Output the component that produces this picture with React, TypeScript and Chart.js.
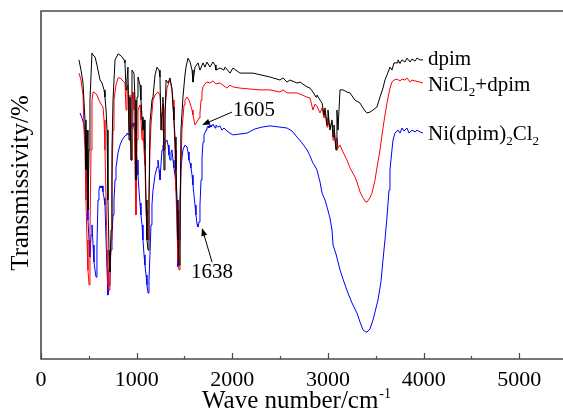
import { useEffect, useRef } from "react";
import { Chart, registerables } from "chart.js";

Chart.register(...registerables);

// ---- Data (wavenumber cm-1, transmissivity in arbitrary offset units) ----
const dpimWn = [397, 418, 439, 460, 470, 481, 491, 502, 512, 533, 544, 565, 585, 596, 617, 638, 659, 669, 680, 690, 700, 711, 721, 732, 742, 753, 774, 795, 805, 826, 847, 868, 878, 889, 899, 909, 920, 930, 941, 951, 972, 983, 993, 1004, 1014, 1035, 1045, 1056, 1066, 1077, 1087, 1098, 1108, 1119, 1129, 1139, 1160, 1171, 1192, 1213, 1234, 1244, 1254, 1265, 1275, 1286, 1296, 1307, 1328, 1349, 1369, 1380, 1390, 1401, 1411, 1422, 1432, 1443, 1453, 1463, 1484, 1505, 1516, 1537, 1558, 1579, 1589, 1599, 1610, 1641, 1662, 1694, 1714, 1735, 1767, 1798, 1819, 1829, 1871, 1913, 1924, 1976, 2007, 2080, 2216, 2394, 2498, 2530, 2572, 2603, 2676, 2708, 2781, 2812, 2843, 2875, 2885, 2917, 2938, 2959, 2969, 2990, 3000, 3021, 3042, 3053, 3063, 3084, 3094, 3105, 3126, 3157, 3199, 3230, 3282, 3335, 3366, 3397, 3408, 3439, 3471, 3512, 3544, 3575, 3596, 3617, 3648, 3669, 3690, 3722, 3732, 3753, 3774, 3805, 3826, 3858, 3878, 3910, 3931, 3962, 3993];
const dpimT = [99.7, 96.3, 92, 79.7, 63, 76.3, 49.7, 69.7, 86.3, 102, 101.3, 100.7, 98, 96.3, 93, 92, 89.7, 87.3, 83, 76.3, 53, 36.3, 29, 43, 69.7, 86.3, 99.7, 101, 101.7, 101.3, 100.7, 99.7, 98.7, 89.7, 93, 97.3, 73, 87.3, 66.3, 96.3, 95.3, 86.3, 59.7, 87.3, 94, 91.3, 86.3, 80.7, 76.3, 79.7, 69.7, 53, 39.7, 36.3, 53, 78.7, 86.3, 87.3, 94.7, 97.3, 96.3, 94, 76.3, 82, 87.3, 63, 79.7, 93, 92, 93.7, 89.7, 84, 79.7, 74, 63, 53, 39.7, 31.3, 43, 76.3, 87.3, 94.7, 97.3, 100.3, 99, 96.3, 92.3, 94.7, 97.3, 98.7, 96.3, 98.7, 97.3, 99, 97.3, 99, 98, 96.3, 97, 96.3, 97.3, 95.3, 97, 95.3, 95.3, 94, 93, 93.7, 92.3, 93, 92, 92.3, 90.7, 90.3, 89, 87.3, 88, 86.3, 85.3, 81.3, 83.7, 78, 83, 76.3, 79.7, 74, 78, 69.7, 83, 76.3, 89.7, 89.7, 89, 88.7, 86.3, 85.3, 83.7, 82.3, 82, 82.3, 83, 84, 87.3, 90.3, 93, 94.7, 97.3, 96.3, 98.7, 98.7, 99.7, 98.5, 99.7, 99, 100.3, 99, 100, 99.3, 100.3, 99.7, 99.7];

const nicl2Wn = [397, 418, 439, 450, 460, 470, 481, 491, 502, 512, 523, 533, 544, 565, 585, 606, 627, 648, 659, 669, 680, 690, 700, 711, 721, 732, 742, 753, 763, 784, 805, 826, 847, 878, 889, 899, 909, 920, 930, 941, 951, 962, 972, 983, 993, 1004, 1014, 1035, 1045, 1056, 1066, 1077, 1087, 1098, 1108, 1119, 1129, 1139, 1150, 1171, 1192, 1223, 1244, 1254, 1265, 1275, 1286, 1296, 1317, 1338, 1349, 1369, 1380, 1390, 1401, 1411, 1422, 1432, 1443, 1453, 1463, 1474, 1495, 1505, 1526, 1547, 1558, 1579, 1589, 1599, 1610, 1620, 1631, 1652, 1662, 1673, 1683, 1694, 1714, 1735, 1767, 1798, 1829, 1871, 1913, 1944, 1976, 2007, 2080, 2185, 2289, 2394, 2498, 2530, 2572, 2676, 2781, 2812, 2843, 2865, 2885, 2917, 2938, 2959, 2969, 2990, 3000, 3021, 3042, 3053, 3063, 3084, 3094, 3105, 3126, 3157, 3199, 3230, 3282, 3303, 3335, 3366, 3397, 3408, 3439, 3460, 3492, 3512, 3544, 3575, 3596, 3617, 3648, 3669, 3690, 3722, 3753, 3774, 3805, 3826, 3858, 3878, 3910, 3962, 3993];
const nicl2T = [95.3, 93, 88, 76.3, 69.7, 53, 39.7, 29.7, 24.7, 43, 69.7, 86.3, 89, 88.7, 88, 86.3, 85, 84, 79.7, 69.7, 53, 36.3, 24.7, 23, 24.7, 39.7, 59.7, 76.3, 86.3, 91.3, 93.7, 93.7, 93, 92, 83, 90.3, 91.3, 76.3, 88, 66.3, 86.3, 89, 83, 63, 48, 73, 83, 84.7, 79.7, 73, 76.3, 69.7, 64.7, 49.7, 41.3, 39.7, 53, 69.7, 78, 86.3, 88, 89, 88, 83, 76.3, 85, 69.7, 83, 90.3, 92.3, 93, 90.3, 86.3, 79.7, 69.7, 56.3, 43, 33, 29.7, 39.7, 63, 76.3, 84.7, 86.3, 87.3, 86.3, 85.3, 83, 81.3, 79.7, 78, 78, 79, 80.3, 82, 86.3, 89, 90.7, 91.7, 92.3, 92, 92.7, 91.7, 92, 91, 90.3, 91.3, 90.7, 90.3, 90, 89.7, 89.7, 89, 89.7, 88.7, 88.7, 87.3, 87, 83, 85, 84.3, 82, 83.7, 80.3, 82.3, 77.3, 80.3, 77, 79, 73, 76.3, 69.7, 73.7, 70.3, 71.3, 69, 66.3, 63.7, 60.7, 59, 55.7, 53.7, 52.3, 52.3, 53.7, 55.3, 59.7, 63.7, 69.7, 77, 81.3, 85.3, 90.3, 92.3, 93, 93.3, 92.7, 93.3, 93, 93.7, 92.3, 93, 92.7, 92.3, 92];

const complexWn = [408, 429, 450, 460, 470, 481, 491, 502, 512, 523, 533, 544, 554, 565, 575, 585, 596, 606, 617, 627, 638, 648, 659, 669, 680, 690, 700, 711, 721, 732, 742, 753, 763, 774, 784, 805, 826, 847, 868, 889, 899, 920, 930, 951, 962, 972, 983, 993, 1004, 1014, 1024, 1035, 1045, 1056, 1066, 1077, 1087, 1098, 1108, 1119, 1129, 1139, 1150, 1160, 1171, 1192, 1213, 1223, 1234, 1244, 1254, 1265, 1275, 1296, 1317, 1328, 1338, 1349, 1359, 1369, 1380, 1390, 1401, 1411, 1422, 1432, 1443, 1453, 1463, 1474, 1484, 1505, 1526, 1537, 1547, 1558, 1568, 1579, 1589, 1599, 1610, 1620, 1631, 1641, 1652, 1662, 1673, 1683, 1694, 1704, 1725, 1735, 1746, 1756, 1767, 1777, 1798, 1819, 1829, 1850, 1871, 1892, 1913, 1944, 1976, 2007, 2080, 2154, 2237, 2310, 2394, 2498, 2572, 2624, 2676, 2729, 2781, 2812, 2843, 2865, 2885, 2917, 2938, 2969, 2990, 3021, 3042, 3053, 3084, 3126, 3167, 3209, 3251, 3303, 3335, 3366, 3397, 3408, 3439, 3471, 3502, 3523, 3554, 3575, 3596, 3617, 3638, 3648, 3669, 3680, 3700, 3732, 3753, 3774, 3795, 3826, 3847, 3878, 3910, 3931, 3962, 3993];
const complexT = [82, 80.3, 78, 74.7, 66.3, 56.3, 46.3, 39.7, 34, 41.3, 44.7, 38, 32.3, 29.7, 27.3, 38, 53, 56.3, 57.7, 57, 57.7, 55.7, 53.7, 51.3, 39.7, 29.7, 21.3, 24.7, 32.3, 36.3, 40.7, 48, 53, 59.7, 63.7, 68.7, 71.3, 73, 74, 74.7, 75.3, 74.7, 76.3, 78, 78.7, 77.3, 74.7, 69.7, 66.3, 61.3, 56.3, 52, 48, 44.7, 39.7, 34.7, 31.3, 28, 24.7, 22, 26.3, 34.7, 44.7, 51.3, 56.3, 61.3, 64, 66.3, 63, 59.7, 64.7, 69.7, 71.3, 72, 73, 71.3, 68, 66.3, 69, 69.7, 66.3, 63.7, 61.3, 58, 49.7, 30.7, 39.7, 53, 63, 67, 69.7, 71.3, 70.7, 69, 66.3, 65.3, 63.7, 61.3, 58, 54.7, 51.3, 48, 45, 44, 45.7, 51.3, 59.7, 67, 72.3, 74.7, 76.3, 77, 77.7, 77, 78, 77.3, 78.3, 77, 78, 77.3, 77.7, 76.3, 77, 76, 75.3, 74.7, 75, 75.3, 76.7, 77.3, 77.7, 77.3, 77, 76, 74, 72, 69.7, 67.7, 65.3, 64.3, 63, 59, 55.3, 53, 50.7, 47, 43, 38, 35, 29.7, 25.7, 22, 18.7, 15.3, 12.3, 9.7, 9, 9, 10, 13, 17, 19.7, 25.7, 33, 39.7, 47.3, 56.3, 63, 69.7, 73, 75.3, 76.3, 75.3, 77, 76, 77, 75.3, 76.3, 75.7, 76.3, 75.7, 75.3];

// ---- Axis ticks ----
const xMajorTicks = [0, 1000, 2000, 3000, 4000, 5000];
const xTickLabels = ["0", "1000", "2000", "3000", "4000", "5000"];
const xMinorTicks = [500, 1500, 2500, 3500, 4500];
const X_MIN = 0;
const X_MAX = 5457;
const Y_MIN = 0;
const Y_MAX = 116;

// ---- Annotations: [text, textX, textY, arrowFromX, arrowFromY, arrowToX, arrowToY] ----
const annoLabels = ["1605", "1638"];
const annoTextX = [2007, 1788];
const annoTextY = [83, 28.7];
const annoFromX = [1997, 1788];
const annoFromY = [82.3, 32.3];
const annoToX = [1683, 1683];
const annoToY = [78, 43.7];

// ---- Series legend labels (placed at end of curves) ----
const seriesNames = ["dpim", "NiCl2+dpim", "Ni(dpim)2Cl2"];
const seriesColors = ["#000000", "#ff0000", "#0000ff"];
const labelX = [4046, 4046, 4046];
const labelY = [98, 89.3, 73];

const FONT = '"Liberation Serif", "Times New Roman", serif';

function drawRich(ctx: CanvasRenderingContext2D, text: string, x: number, y: number, size: number) {
  // digits directly after letters/")" become subscripts
  let cx = x;
  for (let i = 0; i < text.length; i++) {
    const ch = text[i];
    const isSub = /[0-9]/.test(ch) && i > 0 && /[A-Za-z)]/.test(text[i - 1]);
    if (isSub) {
      ctx.font = `${Math.round(size * 0.62)}px ${FONT}`;
      ctx.fillText(ch, cx, y + size * 0.25);
    } else {
      ctx.font = `${size}px ${FONT}`;
      ctx.fillText(ch, cx, y);
    }
    cx += ctx.measureText(ch).width;
  }
}

const framePlugin = {
  id: "framePlugin",
  afterDraw(chart: any) {
    const { ctx, chartArea: a, scales } = chart;
    const x = scales.x;
    const y = scales.y;
    ctx.save();
    // frame
    ctx.strokeStyle = "#4a4a4a";
    ctx.lineWidth = 1.6;
    ctx.beginPath();
    ctx.moveTo(a.right + 2, a.top);
    ctx.lineTo(a.left, a.top);
    ctx.lineTo(a.left, a.bottom);
    ctx.lineTo(a.right + 2, a.bottom);
    ctx.stroke();
    // ticks (inward)
    ctx.lineWidth = 1.2;
    ctx.beginPath();
    xMajorTicks.forEach((v) => {
      const px = Math.round(x.getPixelForValue(v)) + 0.5;
      ctx.moveTo(px, a.bottom);
      ctx.lineTo(px, a.bottom - 6);
    });
    xMinorTicks.forEach((v) => {
      const px = Math.round(x.getPixelForValue(v)) + 0.5;
      ctx.moveTo(px, a.bottom);
      ctx.lineTo(px, a.bottom - 3);
    });
    ctx.stroke();
    // tick labels
    ctx.fillStyle = "#000";
    ctx.font = `22px ${FONT}`;
    ctx.textAlign = "center";
    ctx.textBaseline = "alphabetic";
    xMajorTicks.forEach((v, i) => {
      ctx.fillText(xTickLabels[i], x.getPixelForValue(v), a.bottom + 27);
    });
    // x title with superscript
    const main = "Wave number/cm";
    const sup = "-1";
    ctx.font = `25px ${FONT}`;
    const wMain = ctx.measureText(main).width;
    ctx.font = `14px ${FONT}`;
    const wSup = ctx.measureText(sup).width;
    const cx = 296;
    const startX = cx - (wMain + wSup) / 2;
    ctx.textAlign = "left";
    ctx.font = `25px ${FONT}`;
    ctx.fillText(main, startX, a.bottom + 49);
    ctx.font = `14px ${FONT}`;
    ctx.fillText(sup, startX + wMain + 1, a.bottom + 39);
    // y title
    ctx.save();
    ctx.translate(21, 183);
    ctx.rotate(-Math.PI / 2);
    ctx.font = `25px ${FONT}`;
    ctx.textAlign = "center";
    ctx.textBaseline = "middle";
    ctx.fillText("Transmissivity/%", 0, 0);
    ctx.restore();
    // series labels
    ctx.textAlign = "left";
    ctx.textBaseline = "alphabetic";
    ctx.fillStyle = "#000";
    seriesNames.forEach((name, i) => {
      drawRich(ctx, name, x.getPixelForValue(labelX[i]), y.getPixelForValue(labelY[i]), 21);
    });
    // annotations
    annoLabels.forEach((lab, i) => {
      ctx.font = `21px ${FONT}`;
      ctx.textAlign = i === 0 ? "left" : "center";
      ctx.textBaseline = "middle";
      ctx.fillText(lab, x.getPixelForValue(annoTextX[i]), y.getPixelForValue(annoTextY[i]));
      const x0 = x.getPixelForValue(annoFromX[i]);
      const y0 = y.getPixelForValue(annoFromY[i]);
      const x1 = x.getPixelForValue(annoToX[i]);
      const y1 = y.getPixelForValue(annoToY[i]);
      const ang = Math.atan2(y1 - y0, x1 - x0);
      const hl = 8;
      const hw = 3;
      ctx.strokeStyle = "#000";
      ctx.lineWidth = 1;
      ctx.beginPath();
      ctx.moveTo(x0, y0);
      ctx.lineTo(x1 - Math.cos(ang) * hl * 0.8, y1 - Math.sin(ang) * hl * 0.8);
      ctx.stroke();
      ctx.beginPath();
      ctx.moveTo(x1, y1);
      ctx.lineTo(x1 - Math.cos(ang) * hl - Math.sin(ang) * hw, y1 - Math.sin(ang) * hl + Math.cos(ang) * hw);
      ctx.lineTo(x1 - Math.cos(ang) * hl + Math.sin(ang) * hw, y1 - Math.sin(ang) * hl - Math.cos(ang) * hw);
      ctx.closePath();
      ctx.fillStyle = "#000";
      ctx.fill();
    });
    ctx.restore();
  },
};

export default function App() {
  const ref = useRef<HTMLCanvasElement | null>(null);
  useEffect(() => {
    if (!ref.current) return;
    const mk = (wn: number[], t: number[]) => wn.map((w, i) => ({ x: w, y: t[i] }));
    const chart = new Chart(ref.current, {
      type: "line",
      data: {
        datasets: [
          { label: seriesNames[0], data: mk(dpimWn, dpimT), borderColor: seriesColors[0], borderWidth: 1, pointRadius: 0, tension: 0, fill: false },
          { label: seriesNames[1], data: mk(nicl2Wn, nicl2T), borderColor: seriesColors[1], borderWidth: 1, pointRadius: 0, tension: 0, fill: false },
          { label: seriesNames[2], data: mk(complexWn, complexT), borderColor: seriesColors[2], borderWidth: 1, pointRadius: 0, tension: 0, fill: false },
        ],
      },
      options: {
        responsive: false,
        maintainAspectRatio: false,
        animation: false,
        devicePixelRatio: 1,
        layout: { padding: { left: 41, top: 11, right: 0, bottom: 56 } },
        plugins: { legend: { display: false }, tooltip: { enabled: false } },
        scales: {
          x: { type: "linear", min: X_MIN, max: X_MAX, display: false },
          y: { type: "linear", min: Y_MIN, max: Y_MAX, display: false },
        },
      },
      plugins: [framePlugin],
    });
    return () => chart.destroy();
  }, []);
  return (
    <div style={{ position: "fixed", left: 0, top: 0, width: 563, height: 415, background: "#fff" }}>
      <canvas ref={ref} width={563} height={415} style={{ display: "block" }} />
    </div>
  );
}
